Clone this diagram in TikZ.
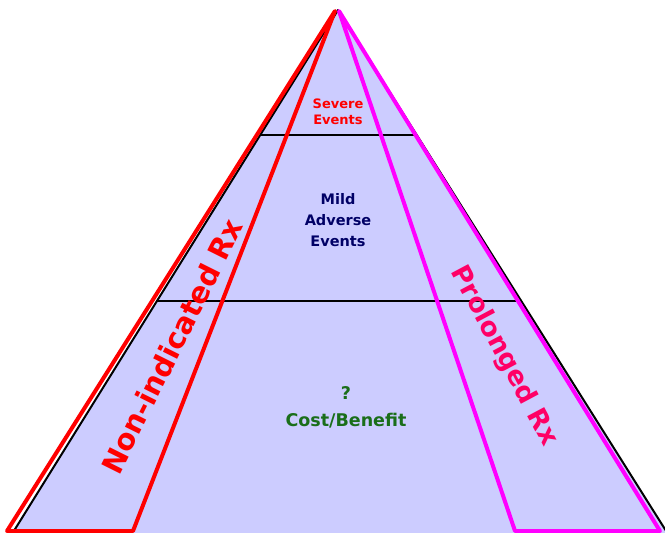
\documentclass[tikz,border=0pt]{standalone}
\usepackage{fontspec}
\setmainfont{DejaVu Sans}
\usetikzlibrary{calc}
\definecolor{Lavande}{HTML}{CCCCFF}
\definecolor{Rouge}{HTML}{FF0000}
\definecolor{Magenta}{HTML}{FF00FF}
\definecolor{Rose}{HTML}{FF0066}
\definecolor{Marine}{HTML}{000066}
\definecolor{Vert}{HTML}{1A6E1A}
\begin{document}
\begin{tikzpicture}[x=1pt,y=-1pt,line join=round]
        \useasboundingbox (0,0) rectangle (665,533);
        \coordinate (sommet) at (338,10);
        \coordinate (gauche) at (12,534);
        \coordinate (droite) at (668,534);
        % pyramide
        \filldraw[fill=Lavande, draw=black, line width=2] (sommet) -- (gauche) -- (droite) -- cycle;
        \foreach \t in {0.239,0.5545}{
          \draw[line width=2] ($(sommet)!\t!(gauche)$) -- ($(sommet)!\t!(droite)$);
        }
        % bandes
        \draw[Rouge, line width=4] (335,11) -- (7,531) -- (133,531) -- cycle;
        \draw[Magenta, line width=4] (339,11) -- (515,531) -- (660,531) -- cycle;
        % textes
        \node[font=\fontsize{13}{16}\selectfont\bfseries, text=Rouge, align=center] (severe) at (338,112) {Severe\\Events};
        \node[font=\fontsize{14.5}{21}\selectfont\bfseries, text=Marine, align=center] (leger) at (338,220) {Mild\\Adverse\\Events};
        \node[font=\fontsize{17.5}{27}\selectfont\bfseries, text=Vert, align=center] (cout) at (346,407) {?\\Cost/Benefit};
        \node[font=\fontsize{29}{32}\selectfont\bfseries, text=Rouge, rotate=63.5] (horsamm) at (172,346) {Non-indicated Rx};
        \node[font=\fontsize{26.5}{30}\selectfont\bfseries, text=Rose, rotate=-62] (prolonge) at (504,356) {Prolonged Rx};
      \end{tikzpicture}
\end{document}
